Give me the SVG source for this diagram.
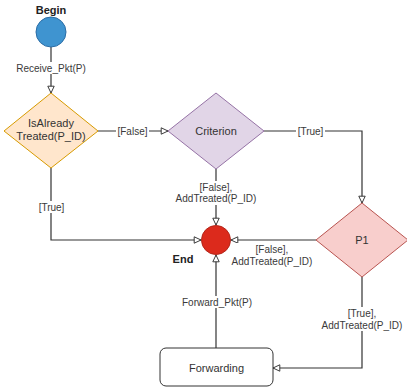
<svg xmlns="http://www.w3.org/2000/svg" width="407" height="391" viewBox="0 0 407 391">
  <style>
    .edge { fill: none; stroke: #333333; stroke-width: 1.2; marker-end: url(#open-arrow); }
    .lbl { font-family: "Liberation Sans", Arial, sans-serif; font-size: 10px; fill: #3a3a3a; text-anchor: middle; }
    .lbl-bg { fill: #ffffff; }
    .node-text { font-family: "Liberation Sans", Arial, sans-serif; font-size: 11px; fill: #333333; text-anchor: middle; }
    .title { font-family: "Liberation Sans", Arial, sans-serif; font-size: 11px; font-weight: bold; fill: #222222; text-anchor: middle; }
  </style>
  <defs>
    <marker id="open-arrow" viewBox="0 0 10 10" refX="9.5" refY="5" markerWidth="8" markerHeight="8" markerUnits="userSpaceOnUse" orient="auto">
      <path d="M1,1 L9.5,5 L1,9 Z" fill="#ffffff" stroke="#333333" stroke-width="1.2"/>
    </marker>
  </defs>
  <rect width="407" height="391" fill="#ffffff"/>

  <!-- connectors -->
  <g id="connectors">
    <path class="edge" d="M51,47 L51,93"/>
    <path class="edge" d="M98,131 L168,131"/>
    <path class="edge" d="M264,131 L362,131 L362,203"/>
    <path class="edge" d="M216,169 L216,225"/>
    <path class="edge" d="M51,168 L51,240 L201,240"/>
    <path class="edge" d="M316,240 L231,240"/>
    <path class="edge" d="M216,348 L216,255"/>
    <path class="edge" d="M362,277 L362,368 L273,368"/>

    <!-- edge labels -->
    <rect class="lbl-bg" x="12" y="62" width="78" height="12"/>
    <text class="lbl" x="51" y="71.5">Receive_Pkt(P)</text>

    <rect class="lbl-bg" x="116" y="125" width="33" height="12"/>
    <text class="lbl" x="132.5" y="134.5">[False]</text>

    <rect class="lbl-bg" x="296" y="125" width="29" height="12"/>
    <text class="lbl" x="310.5" y="134.5">[True]</text>

    <rect class="lbl-bg" x="174" y="181" width="84" height="24"/>
    <text class="lbl" x="216" y="190.5">[False],</text>
    <text class="lbl" x="216" y="202">AddTreated(P_ID)</text>

    <rect class="lbl-bg" x="37" y="201" width="29" height="12"/>
    <text class="lbl" x="51.5" y="210.5">[True]</text>

    <rect class="lbl-bg" x="230" y="243" width="84" height="24"/>
    <text class="lbl" x="272" y="252.5">[False],</text>
    <text class="lbl" x="272" y="264.5">AddTreated(P_ID)</text>

    <rect class="lbl-bg" x="180" y="296" width="74" height="12"/>
    <text class="lbl" x="217" y="305.5">Forward_Pkt(P)</text>

    <rect class="lbl-bg" x="320" y="307" width="84" height="24"/>
    <text class="lbl" x="362" y="316.5">[True],</text>
    <text class="lbl" x="362" y="328.5">AddTreated(P_ID)</text>
  </g>

  <!-- start node -->
  <g id="begin">
    <text class="title" x="51" y="14">Begin</text>
    <circle cx="51" cy="32" r="15" fill="#3f94d0" stroke="#2b6da6" stroke-width="1"/>
  </g>

  <!-- decision: already treated -->
  <g id="is-already-treated">
    <polygon points="51,93 98,131 51,168 4,131" fill="#ffe6cc" stroke="#d79b00" stroke-width="1"/>
    <text class="node-text" x="51" y="127">IsAlready</text>
    <text class="node-text" x="51" y="140">Treated(P_ID)</text>
  </g>

  <!-- decision: criterion -->
  <g id="criterion">
    <polygon points="216,93 264,131 216,169 168,131" fill="#e1d5e7" stroke="#9673a6" stroke-width="1"/>
    <text class="node-text" x="216" y="135">Criterion</text>
  </g>

  <!-- decision: P1 -->
  <g id="p1">
    <polygon points="362,203 408,240 362,277 316,240" fill="#f8cecc" stroke="#b85450" stroke-width="1"/>
    <text class="node-text" x="362" y="244">P1</text>
  </g>

  <!-- end node -->
  <g id="end">
    <circle cx="216" cy="240" r="14.5" fill="#dc2a1c" stroke="#b3261a" stroke-width="1"/>
    <text class="title" x="183" y="263">End</text>
  </g>

  <!-- action: forwarding -->
  <g id="forwarding">
    <rect x="160" y="348" width="113" height="38" rx="6" ry="6" fill="#ffffff" stroke="#333333" stroke-width="1"/>
    <text class="node-text" x="216.5" y="371.5">Forwarding</text>
  </g>
</svg>
